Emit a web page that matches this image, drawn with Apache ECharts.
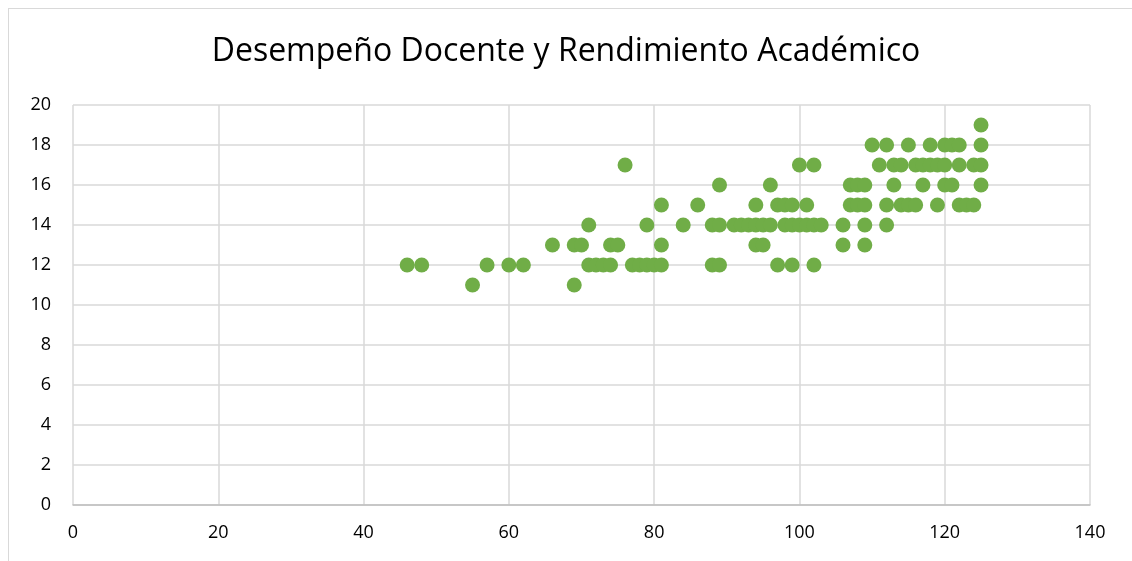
<!DOCTYPE html>
<html>
<head>
<meta charset="utf-8">
<script src="https://cdn.jsdelivr.net/npm/echarts@6/dist/echarts.min.js"></script>
<style>
  html, body { margin: 0; padding: 0; background: #fff; overflow: hidden; }
  #frame {
    position: absolute; left: 8px; top: 8px;
    width: 1140px; height: 570px;
    border: 1px solid #d9d9d9;
  }
  #chart { position: absolute; left: 0; top: 0; width: 1132px; height: 561px; }
</style>
</head>
<body>
<div id="frame"></div>
<div id="chart"></div>
<script>
// desempeño docente (x) vs rendimiento académico (y), grouped by grade
const grade11 = [55, 69];
const grade12 = [46, 48, 57, 60, 62, 71, 72, 73, 74, 77, 78, 79, 80, 81, 88, 89, 97, 99, 102];
const grade13 = [66, 69, 70, 74, 75, 81, 94, 95, 106, 109];
const grade14 = [71, 79, 84, 88, 89, 91, 92, 93, 94, 95, 96, 98, 99, 100, 101, 102, 103, 106, 109, 112];
const grade15 = [81, 86, 94, 97, 98, 99, 101, 107, 108, 109, 112, 114, 115, 116, 119, 122, 123, 124];
const grade16 = [89, 96, 107, 108, 109, 113, 117, 120, 121, 125];
const grade17 = [76, 100, 102, 111, 113, 114, 116, 117, 118, 119, 120, 122, 124, 125];
const grade18 = [110, 112, 115, 118, 120, 121, 122, 125];
const grade19 = [125];

const groups = [
  [11, grade11], [12, grade12], [13, grade13], [14, grade14], [15, grade15],
  [16, grade16], [17, grade17], [18, grade18], [19, grade19],
];

const points = [];
groups.forEach(([y, xs]) => xs.forEach((x) => points.push([x, y])));

const labelFont = "'Open Sans', 'Liberation Sans', sans-serif";

const chart = echarts.init(document.getElementById("chart"));
chart.setOption({
  animation: false,
  backgroundColor: "transparent",
  title: {
    text: "Desempeño Docente y Rendimiento Académico",
    left: "center",
    top: 31,
    textStyle: {
      fontFamily: labelFont,
      fontWeight: "normal",
      fontSize: 32,
      color: "#000",
    },
  },
  grid: { left: 73, right: 42, top: 105, bottom: 56 },
  xAxis: {
    type: "value",
    min: 0,
    max: 140,
    interval: 20,
    axisLine: { show: true, lineStyle: { color: "#bfbfbf", width: 1.5 } },
    axisTick: { show: false },
    axisLabel: { color: "#000", fontSize: 18, fontFamily: labelFont, margin: 19 },
    splitLine: { show: true, lineStyle: { color: "#d9d9d9", width: 1.5 } },
  },
  yAxis: {
    type: "value",
    min: 0,
    max: 20,
    interval: 2,
    axisLine: { show: false },
    axisTick: { show: false },
    axisLabel: { color: "#000", fontSize: 18, fontFamily: labelFont, margin: 22 },
    splitLine: { show: true, lineStyle: { color: "#d9d9d9", width: 1.5 } },
  },
  series: [
    {
      type: "scatter",
      symbol: "circle",
      symbolSize: 15,
      itemStyle: { color: "#70ad47", opacity: 1 },
      data: points,
    },
  ],
});
</script>
</body>
</html>
